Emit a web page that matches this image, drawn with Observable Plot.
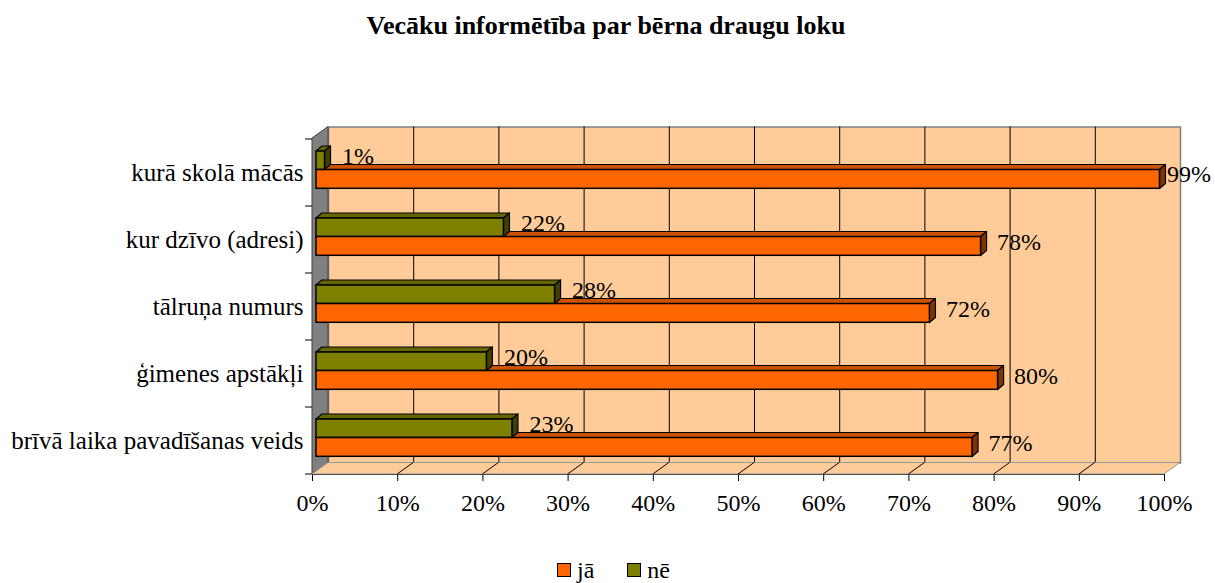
<!DOCTYPE html>
<html>
<head>
<meta charset="utf-8">
<script src="https://cdn.jsdelivr.net/npm/d3@7"></script>
<script src="https://cdn.jsdelivr.net/npm/@observablehq/plot@0.6"></script>
<style>
  html, body { margin: 0; padding: 0; background: #fff; }
  #wrap { position: relative; width: 1215px; height: 583px; font-family: "Liberation Serif", "Times New Roman", serif; color: #000; overflow: hidden; }
  #title { position: absolute; left: 0; width: 1212px; top: 13px; text-align: center; font-weight: bold; font-size: 26px; line-height: 26px; font-family: "Liberation Serif", serif; }
  #chart { position: absolute; left: 0; top: 60px; }
  #chart g[aria-label^="y-axis"] text { font-size: 25px; }
  #legend { position: absolute; left: 557px; top: 558px; display: flex; align-items: center; font-size: 24px; line-height: 24px; font-family: "Liberation Serif", serif; }
  #legend span { font-family: "Liberation Serif", serif; }
  .sw { width: 12px; height: 12px; border: 1px solid #000; display: inline-block; margin-right: 6px; }
</style>
</head>
<body>
<div id="wrap">
  <div id="title">Vecāku informētība par bērna draugu loku</div>
  <div id="chart"></div>
  <div id="legend"></div>
</div>
<script>
const categories = ["kurā skolā mācās", "kur dzīvo (adresi)", "tālruņa numurs", "ģimenes apstākļi", "brīvā laika pavadīšanas veids"];
const jaValues = [99, 78, 72, 80, 77];
const neValues = [1, 22, 28, 20, 23];
const xTicks = [0, 10, 20, 30, 40, 50, 60, 70, 80, 90, 100];
const gridValues = [10, 20, 30, 40, 50, 60, 70, 80, 90];
const seriesNames = ["jā", "nē"];
const seriesColors = ["#FF6600", "#808000"];
const topColors = ["#CC5200", "#666600"];
const sideColors = ["#7F3300", "#404000"];

const jaRows = categories.map((c, i) => ({category: c, value: jaValues[i], series: seriesNames[0]}));
const neRows = categories.map((c, i) => ({category: c, value: neValues[i], series: seriesNames[1]}));

const W = 1215, H = 480;
const mTop = 78, mBottom = 66, mLeft = 312, mRight = 51;
const bandH = (H - mTop - mBottom) / categories.length;
const DX = 16, DY = -11.5;        // wall depth
const bdx = 6, bdy = -5;          // bar depth
const barShift = 4;               // bars sit slightly behind front plane
const neInset = [12, bandH - 30.5];
const jaInset = [30.5, bandH - 49.5];

function walls(index, scales) {
  const x = scales.x, y = scales.y;
  const x0 = x(0), x1 = x(100);
  const yT = mTop, yB = H - mBottom;
  const g = d3.create("svg:g");
  g.append("polygon")
    .attr("points", [[x0, yT], [x0 + DX, yT + DY], [x0 + DX, yB + DY], [x0, yB]].join(" "))
    .attr("fill", "#808080").attr("stroke", "#404040").attr("stroke-width", 1);
  g.append("polygon")
    .attr("points", [[x0, yB], [x0 + DX, yB + DY], [x1 + DX, yB + DY], [x1, yB]].join(" "))
    .attr("fill", "#FFCC99").attr("stroke", "#999").attr("stroke-width", 1);
  for (const t of gridValues) {
    g.append("line")
      .attr("x1", x(t) + DX).attr("y1", yB + DY).attr("x2", x(t)).attr("y2", yB)
      .attr("stroke", "#000").attr("stroke-width", 1);
  }
  const bounds = categories.map(c => y(c)).concat([yB]);
  for (const b of bounds) {
    g.append("line").attr("x1", x0 - 7).attr("x2", x0).attr("y1", b).attr("y2", b)
      .attr("stroke", "#000").attr("stroke-width", 1);
  }
  return g.node();
}

function depthFaces(rows, inset, k) {
  return function(index, scales) {
    const x = scales.x, y = scales.y;
    const g = d3.create("svg:g");
    for (const r of rows) {
      const xa = x(0) + barShift, xb = x(r.value) + barShift;
      const yt = y(r.category) + inset[0];
      const yb = y(r.category) + bandH - inset[1];
      g.append("polygon")
        .attr("points", [[xa, yt], [xa + bdx, yt + bdy], [xb + bdx, yt + bdy], [xb, yt]].join(" "))
        .attr("fill", topColors[k]).attr("stroke", "#000").attr("stroke-width", 1.2).attr("stroke-linejoin", "round");
      g.append("polygon")
        .attr("points", [[xb, yt], [xb + bdx, yt + bdy], [xb + bdx, yb + bdy], [xb, yb]].join(" "))
        .attr("fill", sideColors[k]).attr("stroke", "#000").attr("stroke-width", 1.2).attr("stroke-linejoin", "round");
    }
    return g.node();
  };
}

const labelOpts = {y: "category", x: "value", text: d => d.value + "%", textAnchor: "start", fontSize: 24, fill: "#000"};

const chart = Plot.plot({
  width: W,
  height: H,
  marginTop: mTop,
  marginBottom: mBottom,
  marginLeft: mLeft,
  marginRight: mRight,
  style: {fontFamily: "'Liberation Serif', 'Times New Roman', serif", fontSize: "24px", background: "transparent", overflow: "visible", color: "#000"},
  x: {domain: [0, 100], ticks: xTicks, tickFormat: d => d + "%", tickSize: 7, tickPadding: 12, label: null, line: true},
  y: {domain: categories, padding: 0, tickSize: 0, tickPadding: 9, label: null},
  marks: [
    Plot.frame({fill: "#FFCC99", stroke: "#808080", strokeWidth: 1.5, dx: DX, dy: DY}),
    Plot.ruleX(gridValues, {stroke: "#000", strokeWidth: 1, dx: DX, dy: DY}),
    walls,
    depthFaces(jaRows, jaInset, 0),
    depthFaces(neRows, neInset, 1),
    Plot.barX(jaRows, {y: "category", x1: () => 0, x2: "value", fill: seriesColors[0], stroke: "#000", strokeWidth: 1.5, insetTop: jaInset[0], insetBottom: jaInset[1], dx: barShift}),
    Plot.barX(neRows, {y: "category", x1: () => 0, x2: "value", fill: seriesColors[1], stroke: "#000", strokeWidth: 1.5, insetTop: neInset[0], insetBottom: neInset[1], dx: barShift}),
    Plot.text(neRows, {...labelOpts, dx: barShift + 17, dy: 17 - bandH / 2}),
    Plot.text(jaRows, {...labelOpts, filter: d => d.value < 95, dx: barShift + 16, dy: 36 - bandH / 2}),
    Plot.text(jaRows, {...labelOpts, filter: d => d.value >= 95, dx: barShift + 7, dy: 35 - bandH / 2})
  ]
});
document.getElementById("chart").appendChild(chart);

const legend = document.getElementById("legend");
seriesNames.forEach((s, i) => {
  const item = document.createElement("span");
  item.style.display = "inline-flex";
  item.style.alignItems = "center";
  item.style.marginRight = i === 0 ? "33px" : "0";
  const sw = document.createElement("span");
  sw.className = "sw";
  sw.style.background = seriesColors[i];
  item.appendChild(sw);
  item.appendChild(document.createTextNode(s));
  legend.appendChild(item);
});
</script>
</body>
</html>
